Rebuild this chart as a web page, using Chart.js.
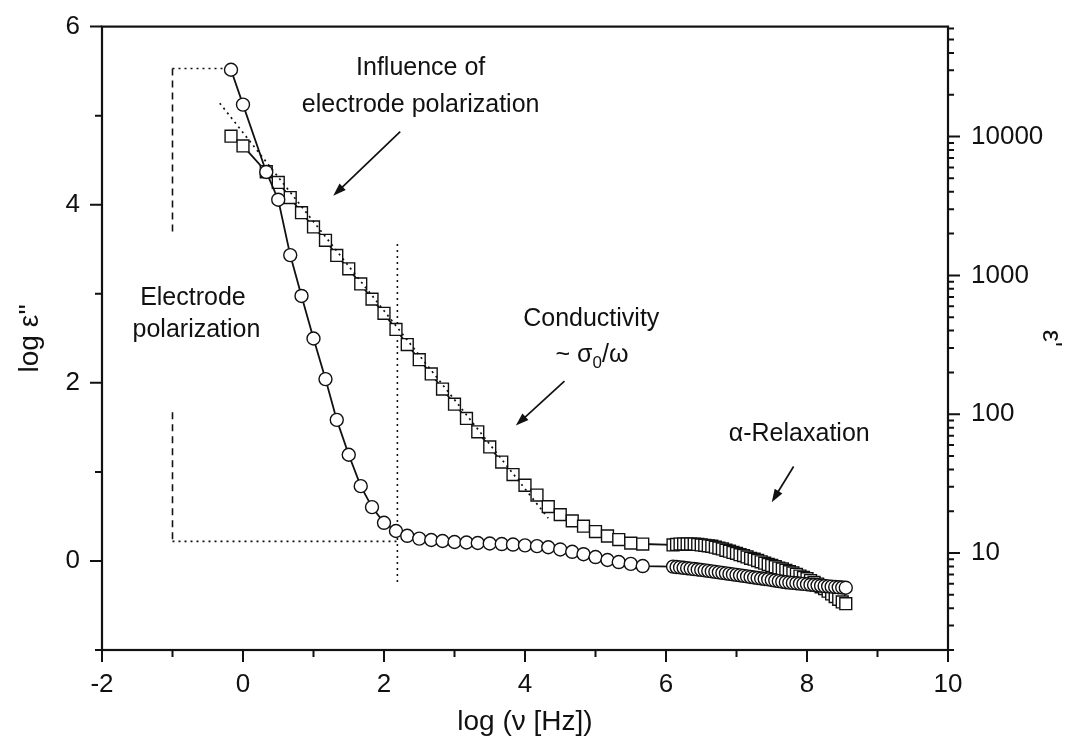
<!DOCTYPE html>
<html>
<head>
<meta charset="utf-8">
<script src="https://cdn.jsdelivr.net/npm/chart.js@4.4.1/dist/chart.umd.min.js"></script>
<style>
  html, body { margin: 0; padding: 0; background: #fff; }
  #wrap { width: 1067px; height: 753px; position: relative; }
</style>
</head>
<body>
<div id="wrap"><canvas id="chart"></canvas></div>
<script>
// log(nu [Hz]) of the low frequency sweep
const freqLow = [-0.17, 0, 0.33, 0.5, 0.67, 0.83, 1.0, 1.17, 1.33, 1.5, 1.67, 1.83, 2.0, 2.17,
  2.33, 2.5, 2.67, 2.83, 3.0, 3.17, 3.33, 3.5, 3.67, 3.83, 4.0, 4.17, 4.33, 4.5, 4.67, 4.83,
  5.0, 5.17, 5.33, 5.5, 5.67];
// log(nu [Hz]) of the high frequency sweep
const freqHigh = [6.10, 6.15, 6.20, 6.25, 6.30, 6.35, 6.40, 6.45, 6.50, 6.55, 6.60, 6.65, 6.70,
  6.75, 6.80, 6.85, 6.90, 6.95, 7.00, 7.05, 7.10, 7.15, 7.20, 7.25, 7.30, 7.35, 7.40, 7.45,
  7.50, 7.55, 7.60, 7.65, 7.70, 7.75, 7.80, 7.85, 7.90, 7.95, 8.00, 8.05, 8.10, 8.15, 8.20,
  8.25, 8.30, 8.35, 8.40, 8.45, 8.50, 8.55];

// eps' (circles, right axis)
const epsRealLow = [30300, 17000, 5560, 3510, 1400, 711, 351, 179, 91, 51, 30.3, 21.4, 16.5,
  14.4, 13.3, 12.7, 12.4, 12.2, 12.0, 11.9, 11.8, 11.7, 11.6, 11.5, 11.35, 11.2, 11.0, 10.6,
  10.2, 9.8, 9.35, 8.9, 8.6, 8.35, 8.05];
const epsRealHigh = [7.98, 7.92, 7.87, 7.82, 7.77, 7.72, 7.66, 7.60, 7.55, 7.49, 7.43, 7.37,
  7.31, 7.25, 7.19, 7.13, 7.07, 7.01, 6.96, 6.90, 6.84, 6.78, 6.72, 6.66, 6.61, 6.55, 6.50,
  6.45, 6.39, 6.33, 6.27, 6.21, 6.16, 6.12, 6.09, 6.06, 6.02, 5.99, 5.95, 5.91, 5.88, 5.85,
  5.81, 5.78, 5.75, 5.72, 5.69, 5.66, 5.64, 5.62];

// log eps'' (squares, left axis)
const logLossLow = [4.77, 4.66, 4.37, 4.25, 4.08, 3.91, 3.75, 3.60, 3.43, 3.28, 3.11, 2.94,
  2.78, 2.60, 2.43, 2.26, 2.10, 1.93, 1.76, 1.60, 1.45, 1.28, 1.11, 0.97, 0.85, 0.74, 0.61,
  0.52, 0.45, 0.39, 0.33, 0.28, 0.24, 0.20, 0.19];
const logLossHigh = [0.18, 0.185, 0.19, 0.19, 0.19, 0.19, 0.19, 0.185, 0.18, 0.175, 0.17,
  0.165, 0.155, 0.145, 0.135, 0.12, 0.11, 0.095, 0.085, 0.07, 0.06, 0.045, 0.03, 0.02, 0.005,
  -0.01, -0.025, -0.04, -0.05, -0.065, -0.08, -0.09, -0.105, -0.12, -0.135, -0.15, -0.17,
  -0.185, -0.2, -0.22, -0.24, -0.26, -0.29, -0.31, -0.34, -0.37, -0.40, -0.43, -0.46, -0.48];

// sigma0/omega fit (dotted)
const fitFreq = [-0.33, 4.33];
const fitLoss = [5.14, 0.48];

// guide lines, [x1, y1, x2, y2] in log nu / log eps''
const guideDotted = [[-1, 5.53, -0.17, 5.53], [-1, 0.22, 2.19, 0.22], [2.19, 3.56, 2.19, -0.26]];
const guideDashed = [[-1, 5.53, -1, 3.69], [-1, 1.67, -1, 0.22]];

// arrows, [fromX, fromY, toX, toY]
const arrows = [[2.23, 4.82, 1.28, 4.10], [4.56, 2.02, 3.87, 1.52], [7.81, 1.06, 7.50, 0.66]];

// annotation text, [text, x, y]
const notes = [
  ["Influence of", 2.52, 5.53],
  ["electrode polarization", 2.52, 5.12],
  ["Electrode", -0.71, 2.95],
  ["polarization", -0.66, 2.59],
  ["Conductivity", 4.94, 2.71],
  ["α-Relaxation", 7.89, 1.42]
];
const sigmaNote = [4.95, 2.31];

const xTicks = [-2, -1, 0, 1, 2, 3, 4, 5, 6, 7, 8, 9, 10];
const yTicks = [-1, 0, 1, 2, 3, 4, 5, 6];
const rightMajor = [10, 100, 1000, 10000];
const rightMantissa = [2, 3, 4, 5, 6, 7, 8, 9];

const FONT = "'Liberation Sans', Arial, Helvetica, sans-serif";
const INK = "#111";

function pts(xs, ys) {
  return xs.map((x, i) => ({ x, y: ys[i] }));
}

const rightTicks = [];
[1, 10, 100, 1000, 10000].forEach((d) => {
  rightMantissa.forEach((m) => {
    if (m * d >= 2 && m * d <= 60000) rightTicks.push(m * d);
  });
  if (d >= 10) rightTicks.push(d);
});
rightTicks.sort((a, b) => a - b);

function guideSet(seg, dash) {
  return {
    data: [{ x: seg[0], y: seg[1] }, { x: seg[2], y: seg[3] }],
    yAxisID: "y",
    borderColor: INK,
    borderWidth: 1.6,
    borderDash: dash,
    pointRadius: 0,
    order: 5,
  };
}

const decor = {
  id: "decor",
  afterDraw(chart) {
    const ctx = chart.ctx;
    const a = chart.chartArea;
    const sx = chart.scales.x;
    const sy = chart.scales.y;
    const sy2 = chart.scales.y2;
    ctx.save();
    ctx.strokeStyle = INK;
    ctx.fillStyle = INK;

    // frame
    ctx.lineWidth = 2.2;
    ctx.strokeRect(a.left, a.top, a.right - a.left, a.bottom - a.top);

    // tick marks
    ctx.lineWidth = 2;
    ctx.beginPath();
    xTicks.forEach((v) => {
      const px = sx.getPixelForValue(v);
      const len = v % 2 === 0 ? 12 : 7;
      ctx.moveTo(px, a.bottom);
      ctx.lineTo(px, a.bottom + len);
    });
    yTicks.forEach((v) => {
      const py = sy.getPixelForValue(v);
      const len = v % 2 === 0 ? 12 : 7;
      ctx.moveTo(a.left, py);
      ctx.lineTo(a.left - len, py);
    });
    rightTicks.forEach((v) => {
      const py = sy2.getPixelForValue(v);
      const len = rightMajor.includes(v) ? 12 : 6;
      ctx.moveTo(a.right, py);
      ctx.lineTo(a.right + len, py);
    });
    ctx.stroke();

    // arrows
    ctx.lineWidth = 1.7;
    arrows.forEach((ar) => {
      const x1 = sx.getPixelForValue(ar[0]);
      const y1 = sy.getPixelForValue(ar[1]);
      const x2 = sx.getPixelForValue(ar[2]);
      const y2 = sy.getPixelForValue(ar[3]);
      const ang = Math.atan2(y2 - y1, x2 - x1);
      const hl = 13;
      const hw = 4.5;
      ctx.beginPath();
      ctx.moveTo(x1, y1);
      ctx.lineTo(x2 - Math.cos(ang) * hl * 0.8, y2 - Math.sin(ang) * hl * 0.8);
      ctx.stroke();
      ctx.beginPath();
      ctx.moveTo(x2, y2);
      ctx.lineTo(x2 - Math.cos(ang) * hl - Math.sin(ang) * hw, y2 - Math.sin(ang) * hl + Math.cos(ang) * hw);
      ctx.lineTo(x2 - Math.cos(ang) * hl + Math.sin(ang) * hw, y2 - Math.sin(ang) * hl - Math.cos(ang) * hw);
      ctx.closePath();
      ctx.fill();
    });

    // texts
    ctx.font = "25px " + FONT;
    ctx.textAlign = "center";
    ctx.textBaseline = "middle";
    notes.forEach((n) => {
      ctx.fillText(n[0], sx.getPixelForValue(n[1]), sy.getPixelForValue(n[2]));
    });

    // ~ sigma_0 / omega
    const cx = sx.getPixelForValue(sigmaNote[0]);
    const cy = sy.getPixelForValue(sigmaNote[1]);
    ctx.textAlign = "left";
    const big = "25px " + FONT;
    const small = "17px " + FONT;
    ctx.font = big;
    const w1 = ctx.measureText("~ σ").width;
    const w3 = ctx.measureText("/ω").width;
    ctx.font = small;
    const w2 = ctx.measureText("0").width;
    let x0 = cx - (w1 + w2 + w3) / 2;
    ctx.font = big;
    ctx.fillText("~ σ", x0, cy);
    ctx.font = small;
    ctx.fillText("0", x0 + w1, cy + 8);
    ctx.font = big;
    ctx.fillText("/ω", x0 + w1 + w2, cy);
    ctx.restore();
  },
};

const tickFont = { family: FONT, size: 26 };

new Chart(document.getElementById("chart"), {
  type: "line",
  data: {
    datasets: [
      {
        data: pts(fitFreq, fitLoss),
        yAxisID: "y",
        borderColor: INK,
        borderWidth: 1.7,
        borderDash: [2, 4],
        pointRadius: 0,
        order: 0,
      },
      {
        data: pts(freqLow, epsRealLow).concat(pts(freqHigh, epsRealHigh)),
        yAxisID: "y2",
        borderColor: INK,
        borderWidth: 1.8,
        pointStyle: "circle",
        pointRadius: 6.5,
        pointBorderWidth: 1.4,
        pointBackgroundColor: "#fff",
        pointBorderColor: INK,
        order: 1,
      },
      {
        data: pts(freqLow, logLossLow).concat(pts(freqHigh, logLossHigh)),
        yAxisID: "y",
        borderColor: INK,
        borderWidth: 1.8,
        pointStyle: "rect",
        pointRadius: 8.4,
        pointBorderWidth: 1.4,
        pointBackgroundColor: "#fff",
        pointBorderColor: INK,
        order: 2,
      },
      ...guideDotted.map((s) => guideSet(s, [2, 4])),
      ...guideDashed.map((s) => guideSet(s, [7, 5])),
    ],
  },
  options: {
    responsive: true,
    maintainAspectRatio: false,
    animation: false,
    events: [],
    layout: { padding: { top: 21, left: 0, right: 0, bottom: 0 } },
    plugins: { legend: { display: false }, tooltip: { enabled: false } },
    scales: {
      x: {
        type: "linear",
        min: -2,
        max: 10,
        afterFit: (s) => { s.height = 103; },
        afterBuildTicks: (s) => { s.ticks = xTicks.map((v) => ({ value: v })); },
        border: { display: false },
        grid: { drawOnChartArea: false, tickLength: 12, tickColor: "rgba(0,0,0,0)" },
        ticks: {
          autoSkip: false,
          maxRotation: 0,
          padding: 7,
          color: INK,
          font: tickFont,
          callback: (v) => (v % 2 === 0 ? String(v) : ""),
        },
        title: {
          display: true,
          text: "log (ν [Hz])",
          color: INK,
          font: { family: FONT, size: 28 },
          padding: { top: 0, bottom: 14 },
        },
      },
      y: {
        type: "linear",
        position: "left",
        min: -1,
        max: 6,
        afterFit: (s) => { s.width = 102; },
        afterBuildTicks: (s) => { s.ticks = yTicks.map((v) => ({ value: v })); },
        border: { display: false },
        grid: { drawOnChartArea: false, tickLength: 12, tickColor: "rgba(0,0,0,0)" },
        ticks: {
          autoSkip: false,
          padding: 10,
          color: INK,
          font: tickFont,
          callback: (v) => (v % 2 === 0 ? String(v) : ""),
        },
        title: {
          display: true,
          text: "log ε''",
          color: INK,
          font: { family: FONT, size: 28 },
          padding: { top: 13, bottom: 0 },
        },
      },
      y2: {
        type: "logarithmic",
        position: "right",
        min: 2,
        max: 62000,
        afterFit: (s) => { s.width = 119; },
        afterBuildTicks: (s) => { s.ticks = rightTicks.map((v) => ({ value: v })); },
        border: { display: false },
        grid: { drawOnChartArea: false, tickLength: 12, tickColor: "rgba(0,0,0,0)" },
        ticks: {
          autoSkip: false,
          padding: 11,
          color: INK,
          font: tickFont,
          callback: (v) => (rightMajor.includes(v) ? String(v) : ""),
        },
        title: {
          display: true,
          text: "ε'",
          color: INK,
          font: { family: FONT, size: 27 },
          padding: { top: 0, bottom: 0 },
        },
      },
    },
  },
  plugins: [decor],
});
</script>
</body>
</html>
